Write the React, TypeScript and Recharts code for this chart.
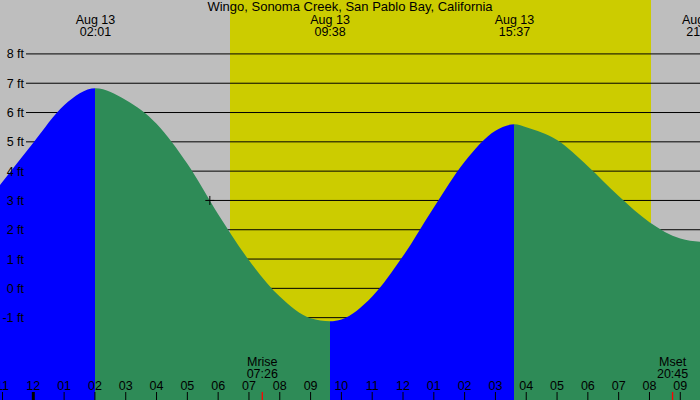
import React from "react";
import { ComposedChart, Area, XAxis, YAxis, CartesianGrid, ReferenceDot } from "recharts";

const title = "Wingo, Sonoma Creek, San Pablo Bay, California";

// Tide curve: hours after midnight (Aug 13) and height in feet
const tideHours = [-1.081, 0, 1, 2.017, 3, 4, 5, 6, 7, 8, 9, 9.633, 10, 11, 12, 13, 14, 15, 15.617, 16, 17, 18, 19, 20, 21, 21.64];
const tideFeet = [3.53, 4.97, 6.25, 6.83, 6.43, 5.62, 4.25, 2.53, 0.96, -0.28, -1.02, -1.12, -1.06, -0.28, 1.1, 2.76, 4.32, 5.38, 5.6, 5.5, 5.06, 4.17, 3.15, 2.26, 1.7, 1.59];

// High / low tide events
const extremeTimes = [2.017, 9.633, 15.617, 21.7];
const extremeDates = ["Aug 13", "Aug 13", "Aug 13", "Aug 13"];
const extremeClock = ["02:01", "09:38", "15:37", "21:42"];

// Daylight
const sunrise = 6.384;
const sunset = 20.06;

// Moon events
const moonTimes = [7.433, 20.75];
const moonNames = ["Mrise", "Mset"];
const moonClock = ["07:26", "20:45"];

// Axis ticks
const hourTicks = [-1, 0, 1, 2, 3, 4, 5, 6, 7, 8, 9, 10, 11, 12, 13, 14, 15, 16, 17, 18, 19, 20, 21];
const hourLabels = ["11", "12", "01", "02", "03", "04", "05", "06", "07", "08", "09", "10", "11", "12", "01", "02", "03", "04", "05", "06", "07", "08", "09"];
const ftTicks = [-1, 0, 1, 2, 3, 4, 5, 6, 7, 8];

// Current-time marker
const nowHour = 5.73;
const nowFeet = 3.0;

const hMin = tideHours[0];
const hMax = tideHours[tideHours.length - 1];
const ftMin = -3.81;
const ftMax = 9.84;

const BLUE = "#0000ff";
const GREEN = "#2e8b57";
const GRAY = "#bebebe";
const YELLOW = "#cccc00";
const FONT = "'Liberation Sans', Arial, sans-serif";

const data = tideHours.map((h, i) => ({ h, v: tideFeet[i] }));

// rising (blue) / falling (green) stops from the extreme times
const bounds = [hMin, ...extremeTimes.filter((t) => t > hMin && t < hMax), hMax];
const stops: { off: number; color: string }[] = [];
for (let i = 0; i < bounds.length - 1; i++) {
  const rising = tideFeet[1] > tideFeet[0] ? i % 2 === 0 : i % 2 === 1;
  const color = rising ? BLUE : GREEN;
  stops.push({ off: (bounds[i] - hMin) / (hMax - hMin), color });
  stops.push({ off: (bounds[i + 1] - hMin) / (hMax - hMin), color });
}

const BottomTick = (props: any) => {
  const { x, payload } = props;
  const v = payload.value;
  const mi = moonTimes.indexOf(v);
  if (mi >= 0) {
    return (
      <g>
        <line x1={x} x2={x} y1={392} y2={400} stroke="#ff0000" strokeWidth={1.3} />
        <text x={x} y={366} textAnchor="middle" fontSize={12.5} fontFamily={FONT} fill="#000">{moonNames[mi]}</text>
        <text x={x} y={378} textAnchor="middle" fontSize={12.5} fontFamily={FONT} fill="#000">{moonClock[mi]}</text>
      </g>
    );
  }
  const hi = hourTicks.indexOf(v);
  return (
    <g>
      <line x1={x} x2={x} y1={392} y2={400} stroke="#000" strokeWidth={v === 0 ? 3 : 1} />
      <text x={x} y={390} textAnchor="middle" fontSize={12.5} fontFamily={FONT} fill="#000">{hourLabels[hi]}</text>
    </g>
  );
};

const TopTick = (props: any) => {
  const { x, payload } = props;
  const i = extremeTimes.indexOf(payload.value);
  if (i < 0) return null;
  return (
    <g>
      <text x={x} y={24} textAnchor="middle" fontSize={12.5} fontFamily={FONT} fill="#000">{extremeDates[i]}</text>
      <text x={x} y={36} textAnchor="middle" fontSize={12.5} fontFamily={FONT} fill="#000">{extremeClock[i]}</text>
    </g>
  );
};

const LeftTick = (props: any) => {
  const { y, payload } = props;
  return (
    <text x={24} y={y + 4.5} textAnchor="end" fontSize={12.5} fontFamily={FONT} fill="#000">{`${payload.value} ft`}</text>
  );
};

const Cross = (props: any) => {
  const { cx, cy } = props;
  return (
    <g>
      <line x1={cx - 4.5} x2={cx + 4.5} y1={cy} y2={cy} stroke="#000" strokeWidth={1} />
      <line x1={cx} x2={cx} y1={cy - 4.5} y2={cy + 4.5} stroke="#000" strokeWidth={1} />
    </g>
  );
};

export default function App() {
  return (
    <div style={{ position: "absolute", left: 0, top: 0, width: 700, height: 400, background: GRAY, fontFamily: FONT, overflow: "hidden" }}>
      <ComposedChart width={700} height={400} data={data} margin={{ top: -1, right: 0, bottom: -1, left: -1 }}>
        <defs>
          <linearGradient id="tideFill" x1="0" y1="0" x2="1" y2="0">
            {stops.map((s, i) => (
              <stop key={i} offset={s.off} stopColor={s.color} />
            ))}
          </linearGradient>
        </defs>
        <CartesianGrid
          horizontal={false}
          vertical={true}
          verticalValues={[sunrise, sunset]}
          verticalFill={[GRAY, YELLOW, GRAY]}
          stroke="none"
        />
        <CartesianGrid x={26} width={674} horizontal={true} vertical={false} horizontalValues={ftTicks} stroke="#000" strokeWidth={1} />
        <XAxis
          xAxisId={0}
          type="number"
          dataKey="h"
          domain={[hMin, hMax]}
          allowDataOverflow
          ticks={[...hourTicks, ...moonTimes]}
          interval={0}
          height={1}
          tickSize={0}
          tickMargin={0}
          axisLine={false}
          tickLine={false}
          tick={<BottomTick />}
        />
        <XAxis
          xAxisId="top"
          orientation="top"
          type="number"
          dataKey="h"
          domain={[hMin, hMax]}
          allowDataOverflow
          ticks={extremeTimes}
          interval={0}
          height={1}
          tickSize={0}
          tickMargin={0}
          axisLine={false}
          tickLine={false}
          tick={<TopTick />}
        />
        <Area
          type="monotone"
          dataKey="v"
          baseValue="dataMin"
          stroke="none"
          fill="url(#tideFill)"
          fillOpacity={1}
          dot={false}
          activeDot={false}
          isAnimationActive={false}
        />
        <YAxis
          type="number"
          domain={[ftMin, ftMax]}
          allowDataOverflow
          ticks={ftTicks}
          interval={0}
          width={1}
          tickSize={0}
          tickMargin={0}
          axisLine={false}
          tickLine={false}
          tick={<LeftTick />}
        />
        <ReferenceDot x={nowHour} y={nowFeet} r={5} shape={<Cross />} />
        <text x={350} y={11} textAnchor="middle" fontSize={13} fontFamily={FONT} fill="#000">{title}</text>
      </ComposedChart>
    </div>
  );
}
